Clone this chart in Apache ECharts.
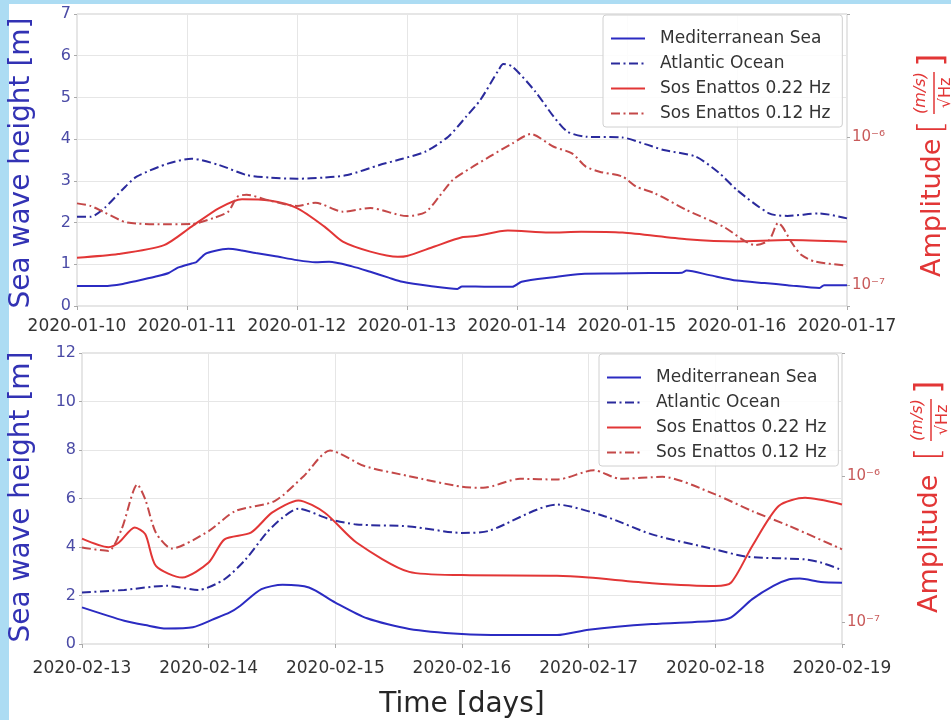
<!DOCTYPE html>
<html><head><meta charset="utf-8">
<script src="https://cdn.jsdelivr.net/npm/echarts@6/dist/echarts.min.js"></script>
<style>html,body{margin:0;padding:0;background:#fff}#c{width:951px;height:720px}</style>
</head><body><div id="c"></div>
<script>
// ---------- data (hours since panel start, value) ----------
// Top panel starts 2020-01-10 00:00, bottom panel starts 2020-02-13 00:00
const topStart = [2020, 0, 10];
const botStart = [2020, 1, 13];
const topDays = 7;
const botDays = 6;

// Sea wave height [m]
const topMed = [[0,0.48],[6,0.48],[10,0.53],[13,0.60],[17,0.70],[20,0.79],[22,0.92],[25,1.02],[26,1.05],[28,1.25],[30,1.32],[33,1.37],[36,1.33],[39,1.27],[43,1.20],[48,1.10],[52,1.05],[55,1.06],[60,0.95],[64,0.82],[68,0.68],[71,0.58],[77,0.48],[83,0.41],[84,0.47],[90,0.46],[95,0.46],[97,0.58],[104,0.69],[110,0.77],[117,0.78],[125,0.79],[132,0.80],[133,0.85],[138,0.74],[144,0.61],[150,0.55],[155,0.50],[162,0.43],[163,0.50],[168,0.50]];
const topAtl = [[0,2.14],[3,2.14],[6,2.35],[10,2.80],[13,3.10],[20,3.42],[25,3.53],[31,3.38],[37,3.14],[42,3.08],[48,3.05],[54,3.08],[59,3.14],[66,3.38],[71,3.53],[76,3.70],[81,4.06],[85,4.55],[88,4.94],[92,5.66],[93,5.80],[95,5.74],[100,5.14],[104,4.54],[107,4.18],[111,4.06],[119,4.04],[124,3.88],[128,3.74],[135,3.58],[140,3.20],[144,2.78],[151,2.22],[155,2.16],[162,2.22],[168,2.10]];
// Amplitude [(m/s)/sqrt(Hz)]
const topSos22 = [[0,1.53e-7],[9,1.62e-7],[19,1.86e-7],[25,2.48e-7],[31,3.31e-7],[36,3.80e-7],[42,3.72e-7],[48,3.31e-7],[54,2.48e-7],[58,1.96e-7],[64,1.68e-7],[70,1.55e-7],[72,1.57e-7],[78,1.82e-7],[84,2.10e-7],[87,2.14e-7],[94,2.33e-7],[103,2.26e-7],[110,2.29e-7],[119,2.26e-7],[133,2.04e-7],[144,1.97e-7],[155,2.01e-7],[168,1.96e-7]];
const topSos12 = [[0,3.56e-7],[3,3.42e-7],[6,3.09e-7],[11,2.64e-7],[20,2.57e-7],[25,2.58e-7],[30,2.85e-7],[33,3.13e-7],[35,3.95e-7],[37,4.07e-7],[42,3.72e-7],[48,3.42e-7],[52,3.60e-7],[58,3.13e-7],[64,3.31e-7],[72,2.92e-7],[76,3.10e-7],[79,3.95e-7],[82,5.13e-7],[86,6.20e-7],[90,7.36e-7],[95,9.06e-7],[99,1.047e-6],[104,8.59e-7],[108,7.76e-7],[111,6.31e-7],[114,5.83e-7],[119,5.40e-7],[122,4.62e-7],[126,4.17e-7],[133,3.21e-7],[141,2.48e-7],[148,1.86e-7],[151,2.01e-7],[153,2.63e-7],[154,2.45e-7],[156,1.92e-7],[158,1.60e-7],[161,1.44e-7],[168,1.35e-7]];

const botMed = [[0,1.51],[8,0.96],[12,0.78],[16,0.64],[21,0.69],[25,1.03],[28,1.30],[30,1.58],[34,2.26],[38,2.44],[43,2.33],[48,1.71],[54,1.06],[62,0.62],[72,0.41],[80,0.37],[90,0.37],[96,0.59],[108,0.82],[120,0.96],[123,1.10],[127,1.85],[131,2.40],[134,2.67],[136,2.70],[140,2.56],[144,2.53]];
const botAtl = [[0,2.12],[8,2.23],[16,2.40],[22,2.23],[27,2.67],[31,3.49],[35,4.59],[38,5.21],[41,5.58],[47,5.14],[52,4.93],[62,4.85],[72,4.58],[77,4.66],[90,5.75],[99,5.27],[108,4.52],[120,3.90],[126,3.60],[137,3.49],[140,3.36],[144,3.05]];
const botSos22 = [[0,3.74e-7],[5,3.27e-7],[7,3.52e-7],[10,4.46e-7],[12,4.01e-7],[14,2.43e-7],[19,2.02e-7],[24,2.56e-7],[27,3.70e-7],[32,4.11e-7],[36,5.64e-7],[41,6.85e-7],[46,5.64e-7],[52,3.52e-7],[62,2.21e-7],[72,2.10e-7],[90,2.08e-7],[96,2.02e-7],[108,1.85e-7],[120,1.77e-7],[123,1.87e-7],[127,3.33e-7],[132,6.27e-7],[137,7.14e-7],[144,6.43e-7]];
const botSos12 = [[0,3.25e-7],[5,3.08e-7],[7.5,4.34e-7],[10.5,8.81e-7],[12,6.95e-7],[14,4.11e-7],[17,3.20e-7],[24,4.22e-7],[29,5.78e-7],[36.5,6.78e-7],[42,1.005e-6],[47,1.51e-6],[53.5,1.18e-6],[62,1.005e-6],[72,8.49e-7],[76,8.36e-7],[83,9.64e-7],[90,9.53e-7],[97,1.104e-6],[102,9.64e-7],[110,9.95e-7],[120,7.53e-7],[127,5.78e-7],[134,4.57e-7],[144,3.16e-7]];

const seriesNames = ['Mediterranean Sea', 'Atlantic Ocean', 'Sos Enattos 0.22 Hz', 'Sos Enattos 0.12 Hz'];
const topHeightRange = [0, 7];
const botHeightRange = [0, 12];
const topAmpRange = [7.21e-8, 6.78e-6];
const botAmpRange = [7.06e-8, 7.06e-6];

// ---------- chart ----------
const DAY = 86400000;
const t0Top = new Date(topStart[0], topStart[1], topStart[2]).getTime();
const t0Bot = new Date(botStart[0], botStart[1], botStart[2]).getTime();
const conv = (t0, arr) => arr.map(p => [t0 + p[0] * 3600000, p[1]]);
const FONT = 'DejaVu Sans';
const blue1 = '#2b2bc2', blue2 = '#2a2a9c', red1 = '#e23636', red2 = '#c44848';
const dashDot = [9, 3.5, 2, 3.5];
const sup = {'-':'\u207B','0':'\u2070','1':'\u00B9','2':'\u00B2','3':'\u00B3','4':'\u2074','5':'\u2075','6':'\u2076','7':'\u2077','8':'\u2078','9':'\u2079'};
function logFmt(v) {
  const l = Math.log10(v); const e = Math.round(l);
  if (Math.abs(l - e) > 1e-6) return '';
  return '10' + String(e).split('').map(c => sup[c]).join('');
}
function dateFmt(v) {
  const d = new Date(v);
  const p = n => (n < 10 ? '0' : '') + n;
  return d.getFullYear() + '-' + p(d.getMonth() + 1) + '-' + p(d.getDate());
}
const gridLine = {show: true, lineStyle: {color: '#e6e6e6', width: 1}};
function xAxisFor(gi, t0, days, margin, extra) {
  return Object.assign({
    type: 'time', gridIndex: gi, min: t0, max: t0 + days * DAY,
    minInterval: DAY, maxInterval: DAY, splitNumber: days,
    axisLine: {show: false},
    axisTick: {show: true, length: 4, lineStyle: {color: '#aaa'}},
    axisLabel: {formatter: dateFmt, fontSize: 17, color: '#333', margin: margin, fontFamily: FONT, hideOverlap: false, showMinLabel: true, showMaxLabel: true},
    splitLine: gridLine
  }, extra || {});
}
function yLeft(gi, range, interval) {
  return {type: 'value', gridIndex: gi, position: 'left', min: range[0], max: range[1], interval: interval,
    axisLine: {show: false}, axisTick: {show: true, length: 3, lineStyle: {color: '#aaa'}},
    axisLabel: {fontSize: 16, color: '#4b4ba6', margin: 6, fontFamily: FONT},
    splitLine: gridLine};
}
function yRight(gi, range) {
  return {type: 'log', logBase: 10, gridIndex: gi, position: 'right', min: range[0], max: range[1],
    axisLine: {show: false}, axisTick: {show: true, length: 3, lineStyle: {color: '#aaa'}},
    axisLabel: {formatter: logFmt, fontSize: 15, color: '#c85a5a', margin: 5, fontFamily: FONT},
    splitLine: {show: false}, minorTick: {show: false}};
}
function line(name, data, xi, yi, color, dash, z) {
  return {type: 'line', name: name, data: data, xAxisIndex: xi, yAxisIndex: yi,
    showSymbol: false, symbol: 'none', smooth: 0.25, color: color, z: z,
    lineStyle: {color: color, width: 2, type: dash ? dashDot : 'solid'}, emphasis: {disabled: true}, animation: false};
}
function legendAt(left, top) {
  return {orient: 'vertical', left: left, top: top, data: seriesNames,
    itemWidth: 34, itemHeight: 12, itemGap: 6, padding: [14, 12, 4, 7],
    itemStyle: {opacity: 0, borderWidth: 0},
    backgroundColor: 'rgba(255,255,255,0.85)', borderColor: '#d0d0d0', borderWidth: 1, borderRadius: 3,
    textStyle: {fontSize: 17, color: '#333', fontFamily: FONT, lineHeight: 19, padding: [0, 0, 0, 10]},
    selectedMode: false};
}
function rot(text, x, y, size, color, align, extra) {
  return {type: 'text', x: x, y: y, rotation: Math.PI / 2, silent: true,
    style: Object.assign({text: text, fontSize: size, fontFamily: FONT, fill: color, align: align, verticalAlign: 'middle'}, extra || {})};
}
const ampTitle = (xc, yBase, fracC) => [
  rot('Amplitude', xc, yBase, 27, red1, 'left'),
  rot('[', xc, fracC + 34, 34, red1, 'center', {fontWeight: 'lighter'}),
  rot('(m/s)', xc - 12, fracC, 16, red1, 'center', {fontStyle: 'italic'}),
  {type: 'line', silent: true, shape: {x1: xc + 1, y1: fracC - 21, x2: xc + 1, y2: fracC + 21}, style: {stroke: red1, lineWidth: 1.5}},
  rot('\u221AHz', xc + 13, fracC, 16, red1, 'center'),
  rot(']', xc, fracC - 33, 34, red1, 'center')
];

const option = {
  backgroundColor: '#ffffff',
  animation: false,
  textStyle: {fontFamily: FONT},
  grid: [
    {left: 77, top: 14, width: 770, height: 292, show: true, borderColor: '#cccccc', borderWidth: 1, backgroundColor: '#fff', containLabel: false},
    {left: 82, top: 353, width: 760, height: 292, show: true, borderColor: '#cccccc', borderWidth: 1, backgroundColor: '#fff', containLabel: false}
  ],
  xAxis: [
    xAxisFor(0, t0Top, topDays, 12),
    xAxisFor(1, t0Bot, botDays, 16, {name: 'Time [days]', nameLocation: 'middle', nameGap: 47,
      nameTextStyle: {fontSize: 28, color: '#262626', fontFamily: FONT}})
  ],
  yAxis: [yLeft(0, topHeightRange, 1), yRight(0, topAmpRange), yLeft(1, botHeightRange, 2), yRight(1, botAmpRange)],
  legend: [legendAt(603, 15), legendAt(599, 354)],
  series: [
    line(seriesNames[0], conv(t0Top, topMed), 0, 0, blue1, false, 2),
    line(seriesNames[1], conv(t0Top, topAtl), 0, 0, blue2, true, 2),
    line(seriesNames[2], conv(t0Top, topSos22), 0, 1, red1, false, 3),
    line(seriesNames[3], conv(t0Top, topSos12), 0, 1, red2, true, 3),
    line(seriesNames[0], conv(t0Bot, botMed), 1, 2, blue1, false, 2),
    line(seriesNames[1], conv(t0Bot, botAtl), 1, 2, blue2, true, 2),
    line(seriesNames[2], conv(t0Bot, botSos22), 1, 3, red1, false, 3),
    line(seriesNames[3], conv(t0Bot, botSos12), 1, 3, red2, true, 3)
  ],
  graphic: [
    {type: 'rect', silent: true, shape: {x: 0, y: 0, width: 9, height: 720}, style: {fill: '#acdcf3'}},
    {type: 'rect', silent: true, shape: {x: 0, y: 0, width: 951, height: 4}, style: {fill: '#acdcf3'}},
    rot('Sea wave height [m]', 22, 163, 28, '#3232b4', 'center'),
    rot('Sea wave height [m]', 22, 497, 28, '#3232b4', 'center'),
    ...ampTitle(933, 277, 93),
    ...ampTitle(930, 613, 420)
  ]
};
const chart = echarts.init(document.getElementById('c'), null, {renderer: 'canvas'});
chart.setOption(option);
</script>
</body></html>
